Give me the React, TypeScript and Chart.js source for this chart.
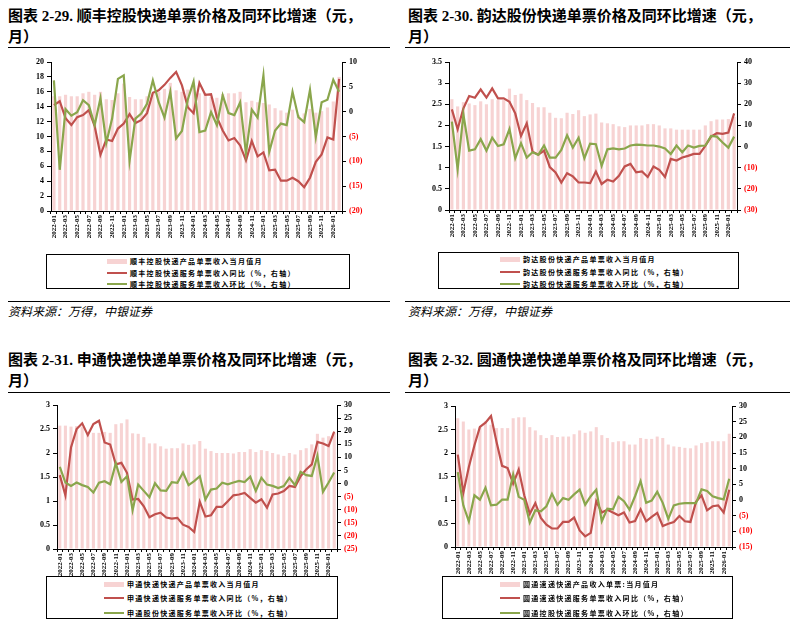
import React, { useEffect, useRef } from "react";
import { Chart, registerables } from "chart.js";
Chart.register(...registerables);

const months: string[] = [
  "2022-01","2022-02","2022-03","2022-04","2022-05","2022-06","2022-07","2022-08","2022-09","2022-10","2022-11","2022-12",
  "2023-01","2023-02","2023-03","2023-04","2023-05","2023-06","2023-07","2023-08","2023-09","2023-10","2023-11","2023-12",
  "2024-01","2024-02","2024-03","2024-04","2024-05","2024-06","2024-07","2024-08","2024-09","2024-10","2024-11","2024-12",
  "2025-01","2025-02","2025-03","2025-04","2025-05","2025-06","2025-07","2025-08","2025-09","2025-10","2025-11","2025-12",
  "2026-01","2026-02",
];

// 顺丰控股
const sfPrice: number[] = [15.4,15.4,15.6,15.4,15.4,15.8,16.0,15.6,16.0,15.0,14.9,15.8,17.1,15.3,15.0,15.0,15.4,15.8,16.0,16.4,17.2,16.2,16.0,16.3,16.9,15.8,15.8,15.3,15.2,15.7,15.8,15.8,16.0,14.6,14.8,14.6,14.5,14.3,13.8,13.5,13.2,13.6,12.9,13.1,13.7,13.2,13.4,13.9,14.7,18.0];
const sfYoy: number[] = [1.3,2.1,-1.3,-2.7,-1.1,-0.7,0.3,-2.9,-8.7,-5.6,-5.9,-3.4,-2.4,-0.5,-2.3,-1.7,-0.3,3.8,4.3,5.4,6.8,8.0,5.3,0.9,-0.3,5.8,3.4,3.5,-1.1,-3.8,-5.8,-5.3,-6.8,-9.8,-5.9,-9.0,-8.2,-11.8,-11.7,-13.9,-13.9,-13.3,-14.0,-15.2,-13.3,-10.1,-8.6,-5.2,-5.6,6.6];
const sfMom: number[] = [6.3,-11.7,0.5,-0.8,-0.1,2.3,1.3,-2.7,2.7,-6.3,-1.4,6.6,7.3,-9.9,-1.4,-0.4,1.6,6.3,1.9,-1.2,4.0,-5.4,-3.9,2.4,6.1,-4.1,-3.8,-0.1,-2.7,3.3,-0.3,-0.7,1.9,-8.4,0.4,-1.2,7.3,-8.1,-3.8,-2.4,-2.7,4.0,-1.1,-2.1,4.4,-5.1,1.9,2.4,6.4,4.0];

// 韵达股份
const ydPrice: number[] = [2.62,2.45,2.55,2.52,2.48,2.57,2.5,2.62,2.6,2.6,2.87,2.72,2.75,2.6,2.53,2.43,2.43,2.3,2.18,2.17,2.3,2.27,2.36,2.22,2.26,2.28,2.07,2.05,2.03,1.98,1.96,2.0,2.0,2.0,2.03,2.03,2.0,1.93,1.93,1.9,1.9,1.9,1.9,1.9,2.0,2.1,2.14,2.14,2.15,2.2];
const ydYoy: number[] = [17.6,8.2,18.1,23.9,23.1,27.0,23.2,27.5,22.8,22.8,21.2,15.7,5.0,11.0,-2.4,-3.9,-1.9,-9.7,-12.2,-17.0,-12.6,-14.1,-17.0,-17.0,-17.3,-11.8,-17.7,-15.7,-16.5,-13.8,-9.4,-8.2,-12.2,-11.8,-14.4,-9.4,-11.0,-14.4,-5.8,-6.6,-5.2,-4.4,-3.5,-3.5,0.3,4.7,6.3,6.0,6.6,15.7];
const ydMom: number[] = [11.8,-10.7,15.2,-1.9,-1.3,3.5,-1.9,4.2,0.3,1.1,8.3,-5.5,1.6,-5.2,-2.7,-3.9,0.5,-5.2,-5.2,-1.6,5.3,-0.5,4.2,-5.5,1.4,1.1,-9.1,-1.3,-0.9,-1.3,-0.9,0.5,0.9,0.8,0.5,0.5,0,-0.9,-3.5,0.5,-2.7,0.5,-0.5,0.3,0.5,5.0,4.7,1.9,-0.5,4.7];

// 申通快递
const stPrice: number[] = [2.57,2.57,2.55,2.56,2.55,2.42,2.42,2.42,2.44,2.42,2.6,2.62,2.7,2.41,2.4,2.33,2.2,2.2,2.14,2.09,2.1,2.1,2.2,2.17,2.18,2.25,2.09,2.04,2.0,2.0,2.0,1.99,2.02,2.02,2.08,2.02,2.06,2.04,2.0,1.97,1.94,2.0,1.97,2.06,2.1,2.18,2.4,2.32,2.35,2.42];
const stYoy: number[] = [3.2,-4.5,13.8,20.8,23.0,18.5,22.7,24.0,15.7,14.9,7.3,7.9,4.1,-6.1,-5.9,-8.7,-12.9,-11.7,-11.1,-13.0,-13.4,-13.1,-15.7,-16.6,-18.5,-7.0,-12.6,-12.1,-8.9,-8.9,-6.8,-4.5,-4.2,-3.6,-5.5,-7.3,-6.0,-9.2,-4.2,-3.8,-2.9,-0.9,-1.3,2.8,5.4,7.3,15.9,15.3,14.3,19.8];
const stMom: number[] = [6.4,0.4,-0.9,0.4,-0.6,-1.3,-3.4,0.3,0.9,-0.3,7.7,0.6,2.8,-10.2,-0.4,-2.8,-5.2,0.1,-2.6,-2.8,0.5,0.3,4.2,-0.6,0.9,2.8,-6.1,-2.3,-1.9,0.3,-0.3,0.4,1.0,0.6,2.6,-2.8,2.2,-0.4,-0.9,-1.7,-1.0,2.2,-0.6,4.5,3.2,2.9,10.6,-3.2,0.4,4.2];

// 圆通速递
const ytPrice: number[] = [2.74,2.67,2.5,2.52,2.55,2.67,2.6,2.53,2.53,2.53,2.74,2.76,2.76,2.55,2.48,2.38,2.32,2.38,2.34,2.35,2.35,2.4,2.48,2.43,2.46,2.55,2.38,2.32,2.23,2.25,2.25,2.18,2.18,2.32,2.3,2.3,2.35,2.32,2.18,2.14,2.13,2.11,2.1,2.16,2.21,2.23,2.25,2.25,2.25,2.41];
const ytYoy: number[] = [14.5,2.3,10.5,17.4,23.3,24.7,26.8,18.5,10.9,10.2,5.2,9.7,1.5,-4.4,-1.0,-5.7,-7.9,-9.1,-9.1,-7.0,-7.0,-5.6,-9.7,-11.6,-10.5,-0.4,-4.0,-3.1,-4.0,-4.9,-4.0,-7.2,-6.7,-3.0,-6.8,-5.4,-4.1,-8.3,-7.6,-7.0,-5.1,-6.8,-7.0,-0.6,1.5,-3.3,-2.0,-1.7,-4.0,3.3];
const ytMom: number[] = [8.9,-1.7,-6.8,1.5,0.1,3.9,-1.7,-1.5,0.1,0.1,8.2,1.0,0.1,-7.2,-3.3,-3.6,-2.0,2.0,-1.5,0.6,0.1,1.8,3.3,-1.5,1.2,3.3,-6.8,-2.8,-3.0,1.0,-0.4,-3.1,1.2,6.0,-0.9,-0.2,2.6,-0.9,-6.0,-1.7,-1.2,-1.0,-1.0,-1.0,3.4,2.9,1.2,0.6,0.2,6.8];

const sfLegend: string[] = ["顺丰控股快递产品单票收入当月值月", "顺丰控股快递服务单票收入同比（%，右轴）", "顺丰控股快递服务单票收入环比（%，右轴）"];
const ydLegend: string[] = ["韵达股份快递产品单票收入当月值月", "韵达股份快递服务单票收入同比（%，右轴）", "韵达股份快递服务单票收入环比（%，右轴）"];
const stLegend: string[] = ["申通快递快递产品单票收入当月值月", "申通快递快递服务单票收入同比（%，右轴）", "申通股份快递服务单票收入环比（%，右轴）"];
const ytLegend: string[] = ["圆通速递快递产品收入单票:当月值月", "圆通速递快递服务单票收入同比（%，右轴）", "圆通控股快递服务单票收入环比（%，右轴）"];

const BAR = "#f7d3d3";
const RED = "#c0504d";
const GREEN = "#8aa64c";
const TICK_FONT = { family: "'Liberation Serif', 'Times New Roman', serif", size: 8, weight: "bold" as const };
const XTICK_FONT = { family: "'Liberation Serif', 'Times New Roman', serif", size: 7, weight: "bold" as const };

type Panel = {
  price: number[]; yoy: number[]; mom: number[];
  leftMax: number; leftStep: number; rMin: number; rMax: number; rStep: number;
  cx: number; cy: number; cw: number; ch: number; lw: number; rw: number; top: number; xh: number;
};

function ChartPanel({ p }: { p: Panel }) {
  const ref = useRef<HTMLCanvasElement>(null);
  useEffect(() => {
    if (!ref.current) return;
    const axisGrid = { display: true, drawOnChartArea: false, drawTicks: true, tickLength: 4, color: "#000", lineWidth: 1 };
    const chart = new Chart(ref.current, {
      type: "bar",
      data: {
        labels: months,
        datasets: [
          { type: "bar", data: p.price, backgroundColor: BAR, yAxisID: "y", barPercentage: 0.55, categoryPercentage: 1, order: 3 } as any,
          { type: "line", data: p.yoy, borderColor: RED, borderWidth: 2.2, pointRadius: 0, tension: 0, yAxisID: "y1", order: 2 } as any,
          { type: "line", data: p.mom, borderColor: GREEN, borderWidth: 2.2, pointRadius: 0, tension: 0, yAxisID: "y1", order: 1 } as any,
        ],
      },
      options: {
        animation: false,
        responsive: false,
        layout: { padding: { top: p.top, left: 0, right: 0, bottom: 0 } },
        plugins: { legend: { display: false }, tooltip: { enabled: false } },
        scales: {
          x: {
            offset: true,
            grid: { ...axisGrid, tickLength: 3 },
            border: { display: true, color: "#000", width: 1 },
            ticks: {
              autoSkip: false, minRotation: 90, maxRotation: 90, padding: 1, color: "#000", font: XTICK_FONT,
              callback: (_v: any, i: number) => (i % 2 === 0 ? months[i] : ""),
            },
            afterFit: (s: any) => { s.height = p.xh; },
          },
          y: {
            position: "left", min: 0, max: p.leftMax,
            grid: axisGrid,
            border: { display: true, color: "#000", width: 1 },
            ticks: {
              stepSize: p.leftStep, color: "#000", font: TICK_FONT, padding: 3,
              callback: (v: any) => `${Math.round(Number(v) * 10) / 10}`,
            },
            afterFit: (s: any) => { s.width = p.lw; },
          },
          y1: {
            position: "right", min: p.rMin, max: p.rMax,
            grid: axisGrid,
            border: { display: true, color: "#000", width: 1 },
            ticks: {
              stepSize: p.rStep, font: TICK_FONT, padding: 3,
              color: (ctx: any) => (ctx.tick && ctx.tick.value < 0 ? "#ff0000" : "#000"),
              callback: (v: any) => (Number(v) < 0 ? `(${-Number(v)})` : `${v}`),
            },
            afterFit: (s: any) => { s.width = p.rw; },
          },
        },
      } as any,
    });
    return () => chart.destroy();
  }, []);
  return (
    <canvas ref={ref} width={p.cw} height={p.ch}
      style={{ position: "absolute", left: p.cx, top: p.cy, width: p.cw, height: p.ch }} />
  );
}

function Legend({ x, y, w, h, rows, swX, labels }: { x: number; y: number; w: number; h: number; rows: number[]; swX: number; labels: string[] }) {
  const textStyle: React.CSSProperties = {
    position: "absolute", left: swX + 23, fontSize: 7, letterSpacing: 1.3, whiteSpace: "nowrap",
    fontFamily: "'Noto Sans CJK SC', sans-serif", fontWeight: 700, color: "#000", lineHeight: "10px",
  };
  return (
    <div style={{ position: "absolute", left: x, top: y, width: w, height: h, border: "1.5px solid #000", background: "#fff", boxSizing: "border-box" }}>
      <div style={{ position: "absolute", left: swX, top: rows[0] - 2.5, width: 20, height: 5, background: BAR }} />
      <div style={{ ...textStyle, top: rows[0] - 5 }}>{labels[0]}</div>
      <div style={{ position: "absolute", left: swX, top: rows[1] - 1, width: 20, height: 2, background: RED }} />
      <div style={{ ...textStyle, top: rows[1] - 5 }}>{labels[1]}</div>
      <div style={{ position: "absolute", left: swX, top: rows[2] - 1, width: 20, height: 2, background: GREEN }} />
      <div style={{ ...textStyle, top: rows[2] - 5 }}>{labels[2]}</div>
    </div>
  );
}

function Title({ x, y, num, text }: { x: number; y: number; num: string; text: string }) {
  return (
    <div style={{ position: "absolute", left: x, top: y, width: 390, fontSize: 15, lineHeight: "19px", fontWeight: 700, color: "#000",
      fontFamily: "'Liberation Serif', 'Noto Sans CJK SC', serif", whiteSpace: "nowrap" }}>
      <div><span style={{ fontFamily: "'Noto Sans CJK SC', sans-serif" }}>图表</span> {num} <span style={{ fontFamily: "'Noto Sans CJK SC', sans-serif" }}>{text}</span></div>
      <div style={{ fontFamily: "'Noto Sans CJK SC', sans-serif" }}>月）</div>
    </div>
  );
}

function Rule({ x, y, w }: { x: number; y: number; w: number }) {
  return <div style={{ position: "absolute", left: x, top: y, width: w, height: 0, borderTop: "1.5px solid #000" }} />;
}

function Source({ x, y }: { x: number; y: number }) {
  return (
    <div style={{ position: "absolute", left: x, top: y, fontSize: 12, fontStyle: "italic", fontFamily: "'Noto Sans CJK SC', sans-serif", color: "#000", whiteSpace: "nowrap", lineHeight: "14px" }}>
      资料来源：万得，中银证券
    </div>
  );
}

const P1: Panel = { price: sfPrice, yoy: sfYoy, mom: sfMom, leftMax: 20, leftStep: 2, rMin: -20, rMax: 10, rStep: 5,
  cx: 18, cy: 50, cw: 360, ch: 200, lw: 33, rw: 36, top: 12, xh: 39 };
const P2: Panel = { price: ydPrice, yoy: ydYoy, mom: ydMom, leftMax: 3.5, leftStep: 0.5, rMin: -30, rMax: 40, rStep: 10,
  cx: 410, cy: 50, cw: 370, ch: 200, lw: 39, rw: 43, top: 12, xh: 40 };
const P3: Panel = { price: stPrice, yoy: stYoy, mom: stMom, leftMax: 3, leftStep: 0.5, rMin: -25, rMax: 30, rStep: 5,
  cx: 20, cy: 393, cw: 350, ch: 200, lw: 37, rw: 33, top: 12, xh: 44 };
const P4: Panel = { price: ytPrice, yoy: ytYoy, mom: ytMom, leftMax: 3, leftStep: 0.5, rMin: -15, rMax: 30, rStep: 5,
  cx: 410, cy: 393, cw: 370, ch: 200, lw: 45, rw: 48, top: 13, xh: 46 };

export default function App() {
  return (
    <div style={{ position: "absolute", left: 0, top: 0, width: 799, height: 634, background: "#fff", overflow: "hidden" }}>
      <Title x={8} y={5} num="2-29." text="顺丰控股快递单票价格及同环比增速（元，" />
      <Title x={408} y={5} num="2-30." text="韵达股份快递单票价格及同环比增速（元，" />
      <Rule x={8} y={47} w={382} />
      <Rule x={405} y={47} w={385} />
      <ChartPanel p={P1} />
      <ChartPanel p={P2} />
      <Legend x={46} y={254} w={304} h={35} rows={[6, 18, 29]} swX={60} labels={sfLegend} />
      <Legend x={438} y={252} w={301} h={37} rows={[6, 19, 31]} swX={61} labels={ydLegend} />
      <Rule x={8} y={301} w={382} />
      <Rule x={405} y={301} w={385} />
      <Source x={8} y={304} />
      <Source x={408} y={304} />

      <Title x={8} y={349} num="2-31." text="申通快递快递单票价格及同环比增速（元，" />
      <Title x={408} y={349} num="2-32." text="圆通快递快递单票价格及同环比增速（元，" />
      <Rule x={8} y={392} w={382} />
      <Rule x={405} y={392} w={385} />
      <ChartPanel p={P3} />
      <ChartPanel p={P4} />
      <Legend x={46} y={576} w={292} h={43} rows={[7, 21, 36]} swX={57} labels={stLegend} />
      <Legend x={442} y={576} w={291} h={43} rows={[7, 21, 36]} swX={57} labels={ytLegend} />
    </div>
  );
}
